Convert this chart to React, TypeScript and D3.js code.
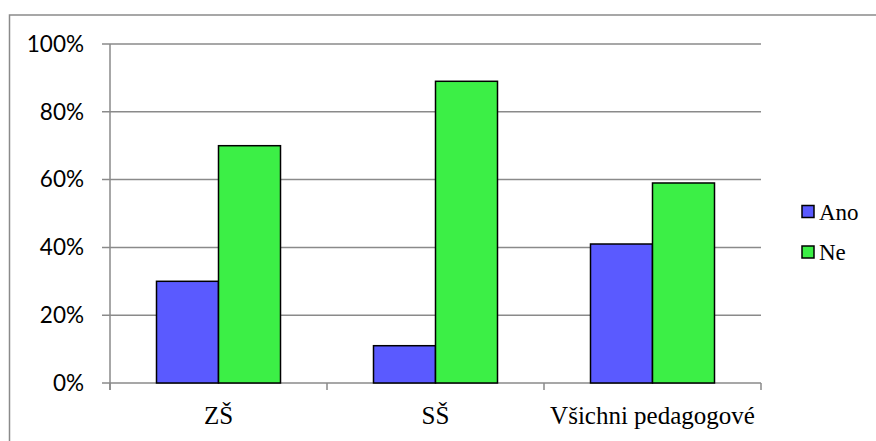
import React from "react";
import * as d3 from "d3";

const categories = ["ZŠ", "SŠ", "Všichni pedagogové"];
const seriesNames = ["Ano", "Ne"];
const anoValues = [0.30, 0.11, 0.41];
const neValues = [0.70, 0.89, 0.59];
const yTicks = [0, 0.2, 0.4, 0.6, 0.8, 1.0];
const seriesColors = ["#5A5AFF", "#3CEF46"];

const W = 876;
const H = 441;
const plot = { left: 110, right: 761, top: 44, bottom: 383 };

const css = `
  .serif-label { font-family: "Liberation Serif", "Times New Roman", Times, serif; }
  .sans-label { font-family: Lato, sans-serif; }
`;

export default function App() {
  const x = d3
    .scaleBand<string>()
    .domain(categories)
    .range([plot.left, plot.right])
    .paddingInner(0)
    .paddingOuter(0);
  const inner = d3
    .scaleBand<string>()
    .domain(seriesNames)
    .range([0, x.bandwidth()])
    .paddingInner(0)
    .paddingOuter(0.75);
  const y = d3.scaleLinear().domain([0, 1]).range([plot.bottom, plot.top]);
  const fmt = d3.format(".0%");
  const values = [anoValues, neValues];
  const grid = "#8A8A8A";

  const boundaries = [...categories.map((c) => x(c)!), plot.right];

  return (
    <svg
      width={W}
      height={H}
      style={{ position: "absolute", left: 0, top: 0, display: "block" }}
    >
      <style>{css}</style>
      <rect x={0} y={0} width={W} height={H} fill="#fff" />
      {/* chart frame */}
      <rect
        x={9.5}
        y={15}
        width={W + 20}
        height={H + 20}
        fill="none"
        stroke={grid}
        strokeWidth={1.5}
      />
      {/* gridlines and y ticks */}
      {yTicks.map((t) => (
        <g key={t}>
          <line
            x1={plot.left - 8}
            x2={plot.right}
            y1={y(t)}
            y2={y(t)}
            stroke={grid}
            strokeWidth={1.5}
          />
          <text
            className="sans-label"
            x={84}
            y={y(t)}
            dy="0.35em"
            textAnchor="end"
            fontSize={22.5}
            fill="#000"
          >
            {fmt(t)}
          </text>
        </g>
      ))}
      {/* y axis */}
      <line
        x1={plot.left}
        x2={plot.left}
        y1={plot.top}
        y2={plot.bottom + 7}
        stroke={grid}
        strokeWidth={1.5}
      />
      {/* x category tick marks */}
      {boundaries.map((bx, i) => (
        <line
          key={i}
          x1={bx}
          x2={bx}
          y1={plot.bottom}
          y2={plot.bottom + 7}
          stroke={grid}
          strokeWidth={1.5}
        />
      ))}
      {/* bars */}
      {categories.map((c, ci) =>
        seriesNames.map((s, si) => {
          const v = values[si][ci];
          const bx = x(c)! + inner(s)!;
          return (
            <rect
              key={c + s}
              x={bx}
              y={y(v)}
              width={inner.bandwidth()}
              height={y(0) - y(v)}
              fill={seriesColors[si]}
              stroke="#000"
              strokeWidth={1.5}
            />
          );
        })
      )}
      {/* category labels */}
      {categories.map((c) => (
        <text
          key={c}
          className="serif-label"
          x={x(c)! + x.bandwidth() / 2}
          y={424}
          textAnchor="middle"
          fontSize={25}
          fill="#000"
        >
          {c}
        </text>
      ))}
      {/* legend */}
      {seriesNames.map((s, i) => {
        const cy = 211.5 + i * 40.5;
        return (
          <g key={s}>
            <rect
              x={802}
              y={cy - 6}
              width={12}
              height={12}
              fill={seriesColors[i]}
              stroke="#000"
              strokeWidth={1.5}
            />
            <text
              className="serif-label"
              x={819}
              y={cy}
              dy="0.35em"
              fontSize={23}
              fill="#000"
            >
              {s}
            </text>
          </g>
        );
      })}
    </svg>
  );
}
